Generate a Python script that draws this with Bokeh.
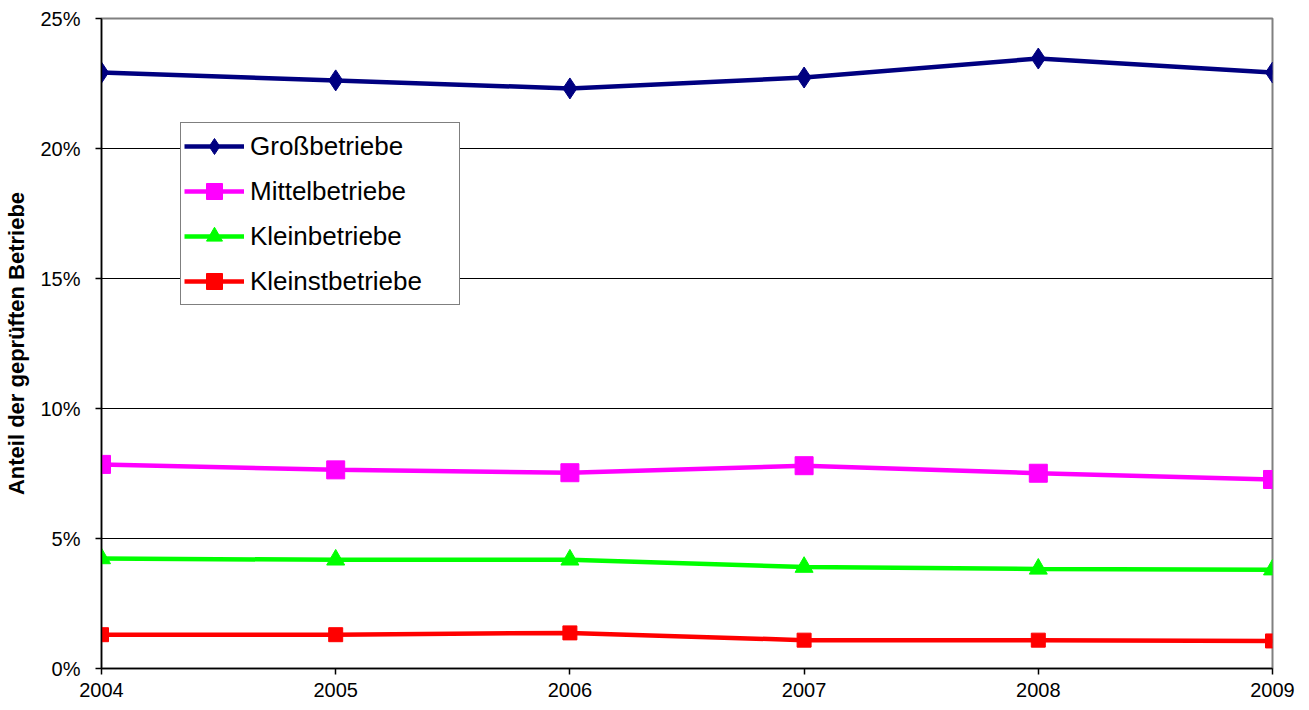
from bokeh.plotting import figure
from bokeh.models import Range1d, FixedTicker, PrintfTickFormatter, Legend, LegendItem
from bokeh.embed import file_html
from bokeh.resources import INLINE

years = [2004, 2005, 2006, 2007, 2008, 2009]
gross = [22.92, 22.62, 22.31, 22.73, 23.46, 22.92]
mittel = [7.85, 7.64, 7.53, 7.80, 7.51, 7.27]
klein = [4.23, 4.18, 4.18, 3.90, 3.83, 3.80]
kleinst = [1.30, 1.30, 1.37, 1.09, 1.09, 1.06]
y_ticks = [0, 5, 10, 15, 20, 25]
series_names = ["Großbetriebe", "Mittelbetriebe", "Kleinbetriebe", "Kleinstbetriebe"]

FONT = "Liberation Sans"

p = figure(width=1300, height=706, output_backend="svg", toolbar_location=None,
           x_range=Range1d(2004, 2009), y_range=Range1d(0, 25),
           min_border_left=101, min_border_right=28, min_border_top=18, min_border_bottom=38)

p.outline_line_color = "#808080"
p.outline_line_width = 2
p.xgrid.grid_line_color = None
p.ygrid.grid_line_color = "black"
p.ygrid.grid_line_width = 1
p.ygrid.ticker = FixedTicker(ticks=y_ticks)

p.xaxis.ticker = FixedTicker(ticks=years)
p.yaxis.ticker = FixedTicker(ticks=y_ticks)
p.yaxis.formatter = PrintfTickFormatter(format="%d%%")
for ax in (p.xaxis, p.yaxis):
    ax.axis_line_color = "black"
    ax.axis_line_width = 1.5
    ax.major_tick_line_color = "black"
    ax.major_tick_line_width = 1.5
    ax.major_tick_out = 6
    ax.major_tick_in = 0
    ax.minor_tick_line_color = None
    ax.major_label_text_font = FONT
    ax.major_label_text_font_size = "20px"
    ax.major_label_text_color = "black"
p.yaxis.major_label_standoff = 15
p.xaxis.major_label_standoff = 8
p.yaxis.axis_label = "Anteil der geprüften Betriebe"
p.yaxis.axis_label_text_font = FONT
p.yaxis.axis_label_text_font_style = "bold"
p.yaxis.axis_label_text_font_size = "22px"
p.yaxis.axis_label_text_color = "black"
p.yaxis.axis_label_standoff = 8

items = []
specs = [
    (gross, "#000080", "diamond", 21),
    (mittel, "#FF00FF", "square", 18),
    (klein, "#00FF00", "triangle", 18),
    (kleinst, "#FF0000", "square", 14),
]
for name, (vals, color, marker, size) in zip(series_names, specs):
    l = p.line(years, vals, line_color=color, line_width=4.5)
    s = p.scatter(years, vals, marker=marker, size=size, fill_color=color, line_color=color)
    items.append(LegendItem(label=name, renderers=[l, s]))

legend = Legend(items=items, location=(79, 363))
legend.label_text_font = FONT
legend.label_text_font_size = "26px"
legend.label_text_color = "black"
legend.glyph_width = 60
legend.glyph_height = 40
legend.label_height = 40
legend.label_standoff = 6
legend.spacing = 5
legend.padding = 3
legend.margin = 0
legend.label_width = 206
legend.border_line_color = "black"
legend.border_line_width = 1
legend.background_fill_color = "white"
legend.background_fill_alpha = 1
p.add_layout(legend)

open("out.html", "w").write(file_html(p, INLINE))
